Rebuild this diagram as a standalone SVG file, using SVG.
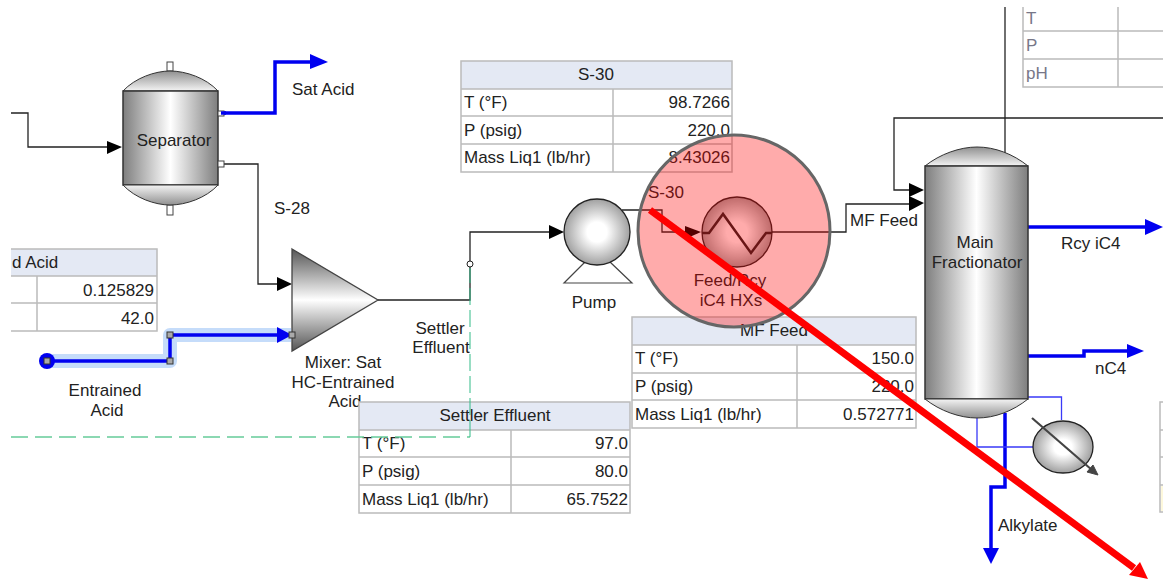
<svg xmlns="http://www.w3.org/2000/svg" width="1163" height="583" viewBox="0 0 1163 583">
<style>
text{font-family:"Liberation Sans",Arial,sans-serif;font-size:17px;fill:#222}
.m{text-anchor:middle}.e{text-anchor:end}
.l{fill:none;stroke:#222;stroke-width:1.3}
.b{fill:none;stroke:#0000f0;stroke-width:3.5}
.t{fill:none;stroke:#bbb;stroke-width:1.5}
.h{fill:#e4e9f4}
.v{stroke:#333;stroke-width:1.5}
.n{fill:#fff;stroke:#444;stroke-width:1}
</style>
<defs>
<linearGradient id="cyl"><stop offset="0" stop-color="#7e7e7e"/><stop offset=".5" stop-color="#fff"/><stop offset="1" stop-color="#7e7e7e"/></linearGradient>
<linearGradient id="top" x1="0" y1="1" x2="0" y2="0"><stop offset="0" stop-color="#f4f4f4"/><stop offset="1" stop-color="#909090"/></linearGradient>
<linearGradient id="bot" x1="0" y1="0" x2="0" y2="1"><stop offset="0" stop-color="#f4f4f4"/><stop offset="1" stop-color="#909090"/></linearGradient>
<linearGradient id="tri" x1="0" y1="0" x2="0" y2="1"><stop offset="0" stop-color="#555"/><stop offset=".5" stop-color="#fff"/><stop offset="1" stop-color="#555"/></linearGradient>
<radialGradient id="sph"><stop offset="0" stop-color="#fff"/><stop offset=".3" stop-color="#fff"/><stop offset="1" stop-color="#a0a0a0"/></radialGradient>
<clipPath id="c"><rect x="11" y="7" width="1152" height="576"/></clipPath>
</defs>

<g id="table-acid" clip-path="url(#c)">
<rect class="h" x="0" y="249" width="157" height="27"/>
<path class="t" d="M0 249H157V331H0M0 276H157M0 303H157M37 276V331"/>
<text x="12" y="268">d Acid</text>
<text class="e" x="154" y="296">0.125829</text>
<text class="e" x="154" y="324">42.0</text>
</g>
<g id="table-top" clip-path="url(#c)">
<path class="t" d="M1023 0V87H1170M1023 31H1170M1023 59H1170M1118 0V87"/>
<text x="1026" y="24" style="fill:#778">T</text>
<text x="1026" y="51" style="fill:#778">P</text>
<text x="1026" y="79" style="fill:#778">pH</text>
</g>
<g id="table-right">
<path class="t" d="M1170 402H1160V512H1170M1160 430H1170M1160 457H1170M1160 485H1170"/>
<rect x="1161" y="486" width="3" height="25" fill="#fdf8dc"/>
</g>

<g id="connectors">
<path class="l" d="M11 113H28V147H110"/>
<path d="M107 141L122 147L107 154Z"/>
<path class="l" d="M222 164H258V284H278"/>
<path d="M277 277L292 284L277 291Z"/>
<path class="b" d="M222 113H275V62H312"/>
<path d="M310 54L328 62L310 69Z" fill="#0000f0"/>
<path class="l" d="M378 300H470V232H552"/>
<path d="M549 225L564 232L549 239Z"/>
<path class="l" d="M622 210H662V232H688"/>
<path d="M685 226L701 232L685 239Z"/>
<path class="l" d="M772 232H846V204H912"/>
<path d="M909 196L924 203L909 211Z"/>
<path class="l" d="M1163 118H894V190H912"/>
<path d="M909 183L924 190L909 197Z"/>
<path class="l" d="M1005 7V154"/>
<path class="b" d="M1028 227H1147"/>
<path d="M1145 219L1163 227L1145 235Z" fill="#0000f0"/>
<path class="b" d="M1028 356H1084V351H1130"/>
<path d="M1127 344L1144 351L1127 358Z" fill="#0000f0"/>
<path class="b" d="M1005 413V487H991V550"/>
<path d="M983 548L991 564L999 548Z" fill="#0000f0"/>
<path d="M1028 397H1061.500V420M977 418V447H1033" fill="none" stroke="#3a3af8" stroke-width="1.300"/>
<path d="M47 361H170V335H291" fill="none" stroke="#c5dcfa" stroke-width="14" stroke-linejoin="round"/>
<path class="b" d="M47 361H170V335H280"/>
<path d="M277 327L292 335L277 343Z" fill="#0000f0"/>
<circle cx="470" cy="264" r="3" fill="#fff" stroke="#222"/>
</g>

<g id="separator">
<rect class="n" x="167" y="62" width="6" height="9"/>
<rect class="n" x="167" y="205" width="6" height="10"/>
<path d="M123 91C135 78 155 71 170 71C186 71 206 78 218 91Z" fill="url(#top)" stroke="#333"/>
<rect x="123" y="91" width="95" height="94" fill="url(#cyl)" class="v"/>
<path d="M123 185C135 198 155 205 170 205C186 205 206 198 218 185Z" fill="url(#bot)" stroke="#333"/>
<rect class="n" x="218" y="111" width="6" height="5"/>
<path class="b" d="M221 113H226"/>
<rect class="n" x="218" y="161" width="6" height="6"/>
<text class="m" x="174" y="146">Separator</text>
</g>
<text id="label-sat-acid" x="292" y="95">Sat Acid</text>
<text id="label-s28" x="274" y="214">S-28</text>

<g id="mixer">
<path d="M292 249L378 300L292 351Z" fill="url(#tri)" stroke="#444" stroke-width="1.300"/>
<text class="m" x="343" y="368">Mixer: Sat</text>
<text class="m" x="343" y="388">HC-Entrained</text>
<text class="m" x="345" y="407">Acid</text>
</g>
<text class="m" x="440" y="334">Settler</text>
<text class="m" x="441" y="353">Effluent</text>
<text class="m" x="105" y="396">Entrained</text>
<text class="m" x="107" y="416">Acid</text>

<g id="handles" fill="#aaa" stroke="#333">
<circle cx="47" cy="361" r="8" fill="#0000f0" stroke="none"/>
<rect x="44" y="358" width="6" height="6"/>
<rect x="167" y="332" width="6" height="6"/>
<rect x="167" y="358" width="6" height="6"/>
<rect x="289" y="332" width="6" height="6"/>
</g>

<g id="pump">
<path d="M585 262L564 283H632L610 262" fill="none" stroke="#444" stroke-width="1.200"/>
<circle cx="597" cy="232" r="33" fill="url(#sph)" stroke="#222" stroke-width="1.300"/>
<text class="m" x="594" y="308">Pump</text>
</g>

<g id="hx">
<circle cx="737" cy="232" r="35" fill="url(#sph)" stroke="#222" stroke-width="1.300"/>
<path d="M702 233H709L723 214L751 253L766 233H772" fill="none" stroke="#222" stroke-width="2.500"/>
</g>

<g id="column">
<path d="M925 166C940 154 960 147 977 147C995 147 1013 154 1028 166Z" fill="url(#top)" stroke="#333"/>
<rect x="925" y="166" width="103" height="233" fill="url(#cyl)" class="v"/>
<path d="M925 399C940 411 960 418 977 418C995 418 1013 411 1028 399Z" fill="url(#bot)" stroke="#333"/>
<text class="m" x="975" y="248">Main</text>
<text class="m" x="977" y="268">Fractionator</text>
</g>
<g id="reboiler">
<ellipse cx="1063" cy="447" rx="30" ry="26" fill="url(#sph)" stroke="#222" stroke-width="1.300"/>
<path d="M1032 418L1092 470" stroke="#444" stroke-width="2.200"/>
<path d="M1098 475L1087 472L1093 465Z" fill="#444" stroke="#444"/>
</g>
<text x="850" y="226">MF Feed</text>
<text x="1061" y="249">Rcy iC4</text>
<text x="1095" y="374">nC4</text>
<text x="998" y="531">Alkylate</text>

<g id="table-s30">
<rect class="h" x="461" y="61" width="271" height="28"/>
<path class="t" d="M461 61H732V172H461ZM461 89H732M461 116H732M461 144H732M613 89V172"/>
<text class="m" x="596" y="80">S-30</text>
<text x="464" y="108">T (°F)</text><text class="e" x="730" y="108">98.7266</text>
<text x="464" y="136">P (psig)</text><text class="e" x="730" y="136">220.0</text>
<text x="464" y="163">Mass Liq1 (lb/hr)</text><text class="e" x="730" y="163">8.43026</text>
</g>
<text id="label-s30" x="648" y="198">S-30</text>
<g id="hx-label">
<text class="m" x="730" y="286">Feed/Rcy</text>
<text class="m" x="731" y="306">iC4 HXs</text>
</g>
<g id="table-mf">
<rect class="h" x="632" y="317" width="284" height="28"/>
<path class="t" d="M632 317H916V428H632ZM632 345H916M632 373H916M632 400H916M797 345V428"/>
<text class="m" x="774" y="336">MF Feed</text>
<text x="635" y="364">T (°F)</text><text class="e" x="914" y="364">150.0</text>
<text x="635" y="392">P (psig)</text><text class="e" x="914" y="392">220.0</text>
<text x="635" y="420">Mass Liq1 (lb/hr)</text><text class="e" x="914" y="420">0.572771</text>
</g>
<g id="table-settler">
<rect x="359" y="402" width="271" height="111" fill="#fff"/>
<rect class="h" x="359" y="402" width="271" height="28"/>
<path class="t" d="M359 402H630V513H359ZM359 430H630M359 457H630M359 485H630M511 430V513"/>
<text class="m" x="495" y="421">Settler Effluent</text>
<text x="362" y="449">T (°F)</text><text class="e" x="628" y="449">97.0</text>
<text x="362" y="477">P (psig)</text><text class="e" x="628" y="477">80.0</text>
<text x="362" y="505">Mass Liq1 (lb/hr)</text><text class="e" x="628" y="505">65.7522</text>
</g>

<g id="annotation">
<path d="M11 437H470" fill="none" stroke="#6c9" stroke-width="1.500" stroke-dasharray="17 7"/>
<path d="M470 437V268" fill="none" stroke="#3b8" stroke-width="1" stroke-dasharray="17 5"/>
<circle cx="734" cy="231" r="96" fill="#f00" fill-opacity=".33" stroke="#666" stroke-width="3"/>
<path d="M650 210L1134 568" fill="none" stroke="#f00" stroke-width="7"/>
<path d="M1148 579L1129 575L1140 562Z" fill="#f00"/>
</g>
</svg>
